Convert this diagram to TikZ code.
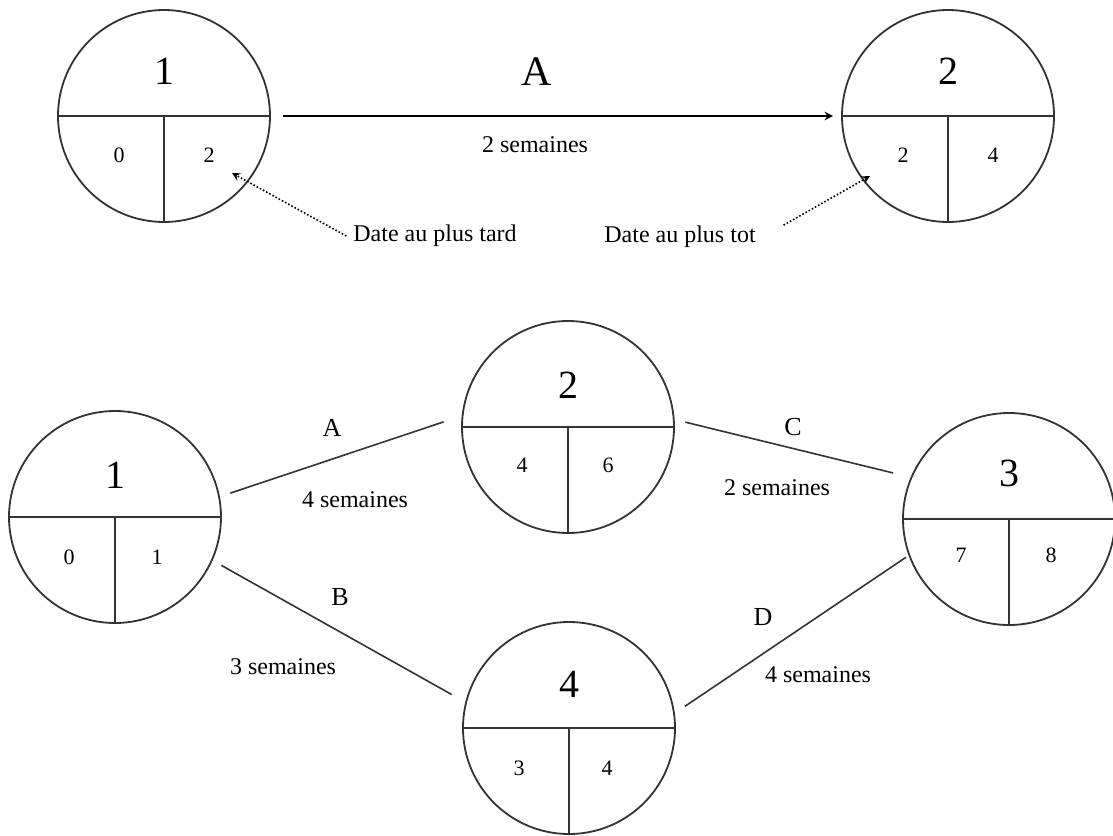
\documentclass[tikz,border=0pt]{standalone}
\usepackage{fontspec}
\setmainfont{Liberation Serif}
\usetikzlibrary{arrows,positioning,calc}

\begin{document}
\begin{tikzpicture}[x=0.5pt, y=-0.5pt,
    evt/.style={circle, draw=black!80, line width=0.9pt, minimum size=106pt, inner sep=0pt,
      path picture={\draw[black!80, line width=0.9pt]
        (path picture bounding box.west) -- (path picture bounding box.east)
        (path picture bounding box.center) -- (path picture bounding box.south);}},
    num/.style={font=\fontsize{20}{24}\selectfont},
    cell/.style={font=\fontsize{11}{13}\selectfont},
    act/.style={font=\fontsize{13}{15}\selectfont},
    dur/.style={font=\fontsize{12}{14}\selectfont},
    link/.style={draw=black!80, line width=0.8pt},
    arrow/.style={->, >=stealth, line width=0.9pt},
    hint/.style={->, >=stealth, densely dotted, line width=0.8pt}]
  \useasboundingbox (0,0) rectangle (1113,835);

  % legend: one activity between two events
  \node[evt] (t1) at (164,116) {};
  \node[evt] (t2) at (948,116) {};
  \node[num]  (t1n) at ([yshift=22.5pt]t1.center) {1};
  \node[cell] (t1a) at ([shift={(-22.5pt,-19.5pt)}]t1.center) {0};
  \node[cell] (t1b) at ([shift={(22.5pt,-19.5pt)}]t1.center) {2};
  \node[num]  (t2n) at ([yshift=22.5pt]t2.center) {2};
  \node[cell] (t2a) at ([shift={(-22.5pt,-19.5pt)}]t2.center) {2};
  \node[cell] (t2b) at ([shift={(22.5pt,-19.5pt)}]t2.center) {4};
  \draw[arrow, shorten <=6pt, shorten >=4pt] (t1) -- (t2);
  \node[font=\fontsize{21}{25}\selectfont] (tA) at (537,72) {A};
  \node[dur] (tdA) at (535,145) {2 semaines};
  \coordinate (tardTip) at (232,173);
  \coordinate (totTip) at (870,176);
  \node[dur] (tard) at (435,236) {Date au plus tard};
  \node[dur] (tot) at (680,237) {Date au plus tot};
  \draw[hint] (tard.west) -- (tardTip);
  \draw[hint, shorten <=12pt] (tot.east) -- (totTip);

  % network
  \node[evt] (b1) at (115,517) {};
  \node[evt] (b2) at (568,427) {};
  \node[evt] (b3) at (1009,519) {};
  \node[evt] (b4) at (569,728) {};
  \node[num]  (b1n) at ([yshift=21pt]b1.center) {1};
  \node[cell] (b1a) at ([shift={(-23pt,-20pt)}]b1.center) {0};
  \node[cell] (b1b) at ([shift={(21pt,-20pt)}]b1.center) {1};
  \node[num]  (b2n) at ([yshift=21pt]b2.center) {2};
  \node[cell] (b2a) at ([shift={(-23pt,-19pt)}]b2.center) {4};
  \node[cell] (b2b) at ([shift={(20pt,-19pt)}]b2.center) {6};
  \node[num]  (b3n) at ([yshift=23pt]b3.center) {3};
  \node[cell] (b3a) at ([shift={(-24pt,-18pt)}]b3.center) {7};
  \node[cell] (b3b) at ([shift={(21pt,-18pt)}]b3.center) {8};
  \node[num]  (b4n) at ([yshift=22pt]b4.center) {4};
  \node[cell] (b4a) at ([shift={(-25pt,-20pt)}]b4.center) {3};
  \node[cell] (b4b) at ([shift={(19pt,-20pt)}]b4.center) {4};

  \draw[link, shorten <=5.5pt, shorten >=9.5pt] (b1.11) -- (b2.174);
  \draw[link, shorten <=5.5pt, shorten >=9pt] (b2.4) -- (b3.157);
  \draw[link, shorten <=5pt, shorten >=7.8pt] (b1.336) -- (b4.166);
  \draw[link, shorten <=1.5pt, shorten >=6pt] (b3.200) -- (b4.8);
  \node[act] (lA) at (332,428) {A};
  \node[dur] (dA) at (355,500) {4 semaines};
  \node[act] (lB) at (340,597) {B};
  \node[dur] (dB) at (283,667) {3 semaines};
  \node[act] (lC) at (793,427) {C};
  \node[dur] (dC) at (777,488) {2 semaines};
  \node[act] (lD) at (763,617) {D};
  \node[dur] (dD) at (818,675) {4 semaines};
\end{tikzpicture}
\end{document}
